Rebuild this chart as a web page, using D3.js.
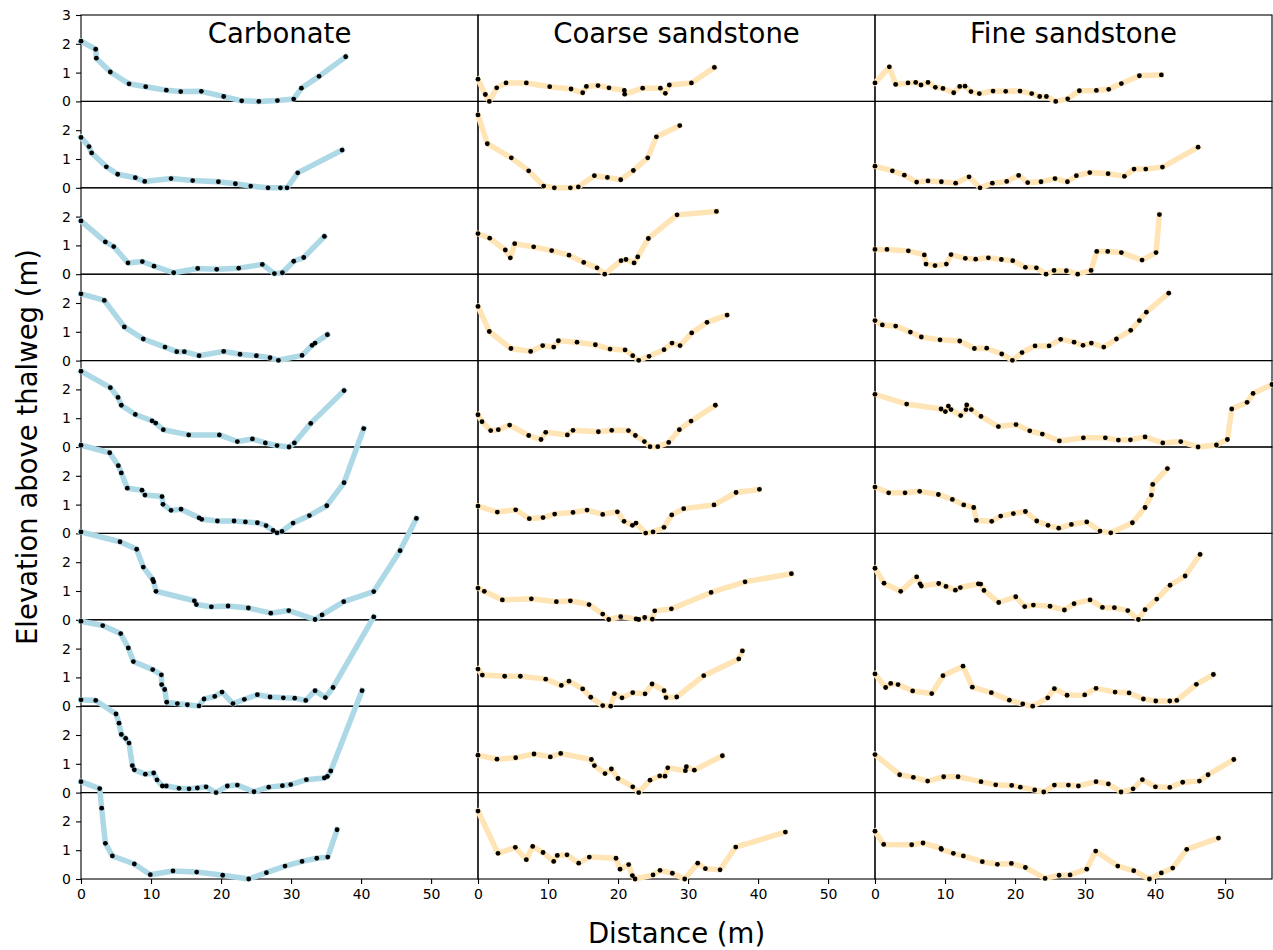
<!DOCTYPE html>
<html>
<head>
<meta charset="utf-8">
<script src="https://cdn.jsdelivr.net/npm/d3@7"></script>
<style>
  body { margin: 0; background: #fff; }
  svg { font-family: "DejaVu Sans", sans-serif; }
</style>
</head>
<body>
<div id="chart"></div>
<script>
// column titles and tick labels
const lithologies = ["Carbonate", "Coarse sandstone", "Fine sandstone"];
const xTicks = [0, 10, 20, 30, 40, 50];
const yTicks = [0, 1, 2];

// carbonate profiles, one array per row (distance in m / elevation in m)
const carbonateDist = [
  [0, 2.1, 2.19, 4.19, 6.86, 9.24, 12.19, 14.24, 17.19, 20.38, 22.95, 25.4, 28.05, 30.38, 31.48, 34.0, 37.8],
  [0, 1.14, 1.52, 3.62, 5.24, 7.76, 9.1, 12.86, 15.95, 19.62, 22.05, 24.24, 26.71, 28.48, 29.43, 30.95, 37.29],
  [0, 3.48, 4.67, 6.71, 8.76, 10.43, 13.24, 16.67, 19.38, 22.52, 25.9, 27.62, 28.76, 30.38, 31.81, 34.76],
  [0, 3.33, 6.19, 8.9, 12.0, 13.67, 14.76, 16.86, 20.38, 22.71, 25.05, 27.0, 28.19, 31.57, 33.0, 33.43, 35.19],
  [0, 4.19, 5.29, 5.76, 7.76, 10.14, 10.67, 11.76, 15.38, 19.76, 22.33, 24.48, 26.33, 28.0, 29.71, 30.48, 32.81, 37.57],
  [0, 4.1, 5.33, 5.76, 6.62, 8.71, 9.14, 11.57, 11.71, 12.86, 14.29, 16.86, 17.24, 19.48, 21.86, 23.48, 25.19, 26.43, 27.43, 28.0, 28.71, 30.29, 32.62, 35.1, 37.57, 40.38],
  [0, 5.57, 7.95, 8.9, 10.24, 10.38, 10.71, 16.19, 16.48, 18.62, 21.0, 23.9, 27.1, 29.67, 33.43, 34.43, 37.52, 41.81, 45.57, 47.9],
  [0, 3.1, 5.67, 6.76, 7.48, 10.24, 11.48, 11.52, 11.95, 12.24, 13.76, 15.19, 16.86, 17.57, 19.1, 20.14, 21.71, 23.33, 25.19, 27.0, 28.9, 30.52, 32.1, 33.43, 34.9, 36.0, 41.81],
  [0, 2.1, 5.0, 5.43, 5.76, 6.38, 6.86, 7.33, 7.62, 9.19, 10.38, 10.86, 11.62, 12.19, 14.0, 15.43, 16.62, 17.86, 19.29, 20.9, 22.33, 24.71, 26.81, 28.76, 29.95, 32.19, 34.76, 35.19, 35.67, 40.14],
  [0, 2.67, 2.95, 3.48, 4.48, 7.62, 9.9, 13.14, 16.52, 20.24, 23.95, 26.48, 29.14, 31.57, 33.67, 35.24, 36.57]
];
const carbonateElev = [
  [2.09, 1.81, 1.5, 1.02, 0.61, 0.51, 0.39, 0.34, 0.35, 0.17, 0.02, 0, 0.03, 0.08, 0.46, 0.87, 1.55],
  [1.75, 1.43, 1.21, 0.73, 0.47, 0.35, 0.22, 0.32, 0.25, 0.21, 0.14, 0.06, 0, 0, 0, 0.52, 1.31],
  [1.85, 1.12, 0.96, 0.39, 0.44, 0.28, 0.05, 0.2, 0.17, 0.21, 0.34, 0.02, 0.05, 0.45, 0.58, 1.31],
  [2.32, 2.09, 1.17, 0.75, 0.47, 0.31, 0.31, 0.17, 0.32, 0.22, 0.17, 0.1, 0.01, 0.18, 0.53, 0.61, 0.9],
  [2.63, 2.06, 1.72, 1.45, 1.13, 0.91, 0.83, 0.6, 0.42, 0.42, 0.19, 0.28, 0.14, 0.05, 0, 0.14, 0.82, 1.96],
  [3.06, 2.8, 2.35, 2.1, 1.57, 1.5, 1.33, 1.28, 1.01, 0.8, 0.84, 0.54, 0.49, 0.43, 0.43, 0.4, 0.37, 0.27, 0.1, 0.02, 0.07, 0.36, 0.62, 0.96, 1.76, 3.64],
  [3.05, 2.71, 2.45, 1.83, 1.4, 1.32, 0.99, 0.66, 0.53, 0.45, 0.48, 0.41, 0.23, 0.32, 0.01, 0.17, 0.63, 0.98, 2.4, 3.52],
  [2.95, 2.8, 2.52, 2.02, 1.55, 1.27, 1.09, 0.75, 0.58, 0.14, 0.09, 0.05, 0.01, 0.25, 0.34, 0.49, 0.09, 0.24, 0.4, 0.32, 0.29, 0.28, 0.2, 0.54, 0.3, 0.65, 3.1],
  [3.22, 3.2, 2.73, 2.41, 2.02, 1.88, 1.72, 0.94, 0.79, 0.64, 0.68, 0.44, 0.23, 0.23, 0.15, 0.13, 0.16, 0.2, 0, 0.23, 0.26, 0.03, 0.19, 0.24, 0.28, 0.45, 0.51, 0.56, 0.75, 3.54],
  [3.38, 3.14, 2.46, 1.24, 0.8, 0.52, 0.15, 0.28, 0.24, 0.13, 0, 0.22, 0.45, 0.61, 0.72, 0.76, 1.71]
];

// coarse sandstone profiles
const coarseDist = [
  [0, 1.05, 1.62, 2.67, 4.0, 6.9, 10.24, 13.29, 14.95, 15.48, 17.14, 18.71, 20.9, 20.95, 23.52, 26.05, 26.76, 27.33, 30.48, 33.76],
  [0, 1.33, 4.76, 7.24, 9.38, 10.9, 13.19, 14.33, 16.62, 18.48, 20.38, 22.19, 24.24, 25.48, 28.81],
  [0, 1.67, 3.9, 4.62, 5.24, 7.95, 10.52, 13.0, 15.1, 17.0, 18.1, 20.43, 21.14, 22.29, 22.81, 24.33, 28.43, 34.05],
  [0, 1.62, 4.71, 7.52, 9.24, 10.81, 11.48, 14.14, 16.76, 18.86, 21.0, 22.1, 22.95, 24.43, 26.57, 27.71, 28.86, 30.52, 32.71, 35.57],
  [0, 0.57, 1.81, 2.9, 4.52, 7.24, 9.0, 9.67, 12.76, 13.57, 17.19, 19.1, 21.48, 22.48, 23.76, 24.57, 25.67, 27.24, 28.76, 30.43, 33.9],
  [0, 2.76, 5.38, 7.33, 9.29, 10.95, 13.57, 15.57, 17.81, 19.9, 20.86, 22.05, 22.57, 23.95, 25.0, 26.57, 27.67, 29.38, 33.71, 36.86, 40.19],
  [0, 0.9, 3.48, 7.62, 11.19, 13.19, 15.86, 17.81, 18.67, 20.38, 22.57, 22.95, 23.81, 24.9, 25.24, 27.62, 33.29, 38.14, 44.76],
  [0, 0.62, 3.81, 6.05, 9.67, 11.9, 13.0, 14.95, 16.1, 17.81, 18.95, 19.48, 20.57, 22.1, 23.86, 24.86, 26.57, 26.86, 28.38, 32.24, 37.24, 37.76],
  [0, 2.71, 5.38, 8.0, 10.33, 11.81, 16.19, 16.62, 18.14, 19.05, 20.0, 22.1, 22.95, 24.57, 25.95, 26.71, 27.1, 29.62, 29.76, 30.9, 34.9],
  [0, 2.86, 5.33, 6.9, 7.81, 9.29, 10.81, 11.33, 12.71, 14.38, 15.9, 19.71, 20.29, 21.52, 22.05, 22.43, 25.0, 26.0, 27.76, 29.52, 31.38, 32.48, 34.57, 36.81, 43.9]
];
const coarseElev = [
  [0.77, 0.24, 0, 0.47, 0.64, 0.64, 0.51, 0.43, 0.3, 0.52, 0.55, 0.47, 0.38, 0.25, 0.46, 0.46, 0.28, 0.57, 0.64, 1.18],
  [2.53, 1.53, 1.04, 0.59, 0.06, 0, 0, 0.03, 0.42, 0.36, 0.28, 0.6, 1.04, 1.77, 2.16],
  [1.41, 1.25, 0.84, 0.57, 1.06, 0.95, 0.82, 0.66, 0.41, 0.22, 0, 0.47, 0.51, 0.39, 0.6, 1.24, 2.06, 2.18],
  [1.88, 1.01, 0.42, 0.32, 0.52, 0.47, 0.69, 0.64, 0.55, 0.4, 0.37, 0.17, 0.01, 0.15, 0.38, 0.61, 0.52, 0.96, 1.33, 1.58],
  [1.12, 0.88, 0.57, 0.6, 0.76, 0.4, 0.26, 0.51, 0.42, 0.58, 0.53, 0.58, 0.57, 0.4, 0.19, 0.01, 0.01, 0.16, 0.6, 0.9, 1.45],
  [0.95, 0.74, 0.82, 0.51, 0.55, 0.67, 0.73, 0.81, 0.66, 0.75, 0.42, 0.28, 0.36, 0.01, 0.05, 0.21, 0.64, 0.86, 0.99, 1.42, 1.53],
  [1.1, 0.99, 0.69, 0.73, 0.63, 0.66, 0.53, 0.2, 0.01, 0.11, 0.03, 0.01, 0.08, 0.02, 0.31, 0.38, 0.95, 1.32, 1.6],
  [1.29, 1.08, 1.04, 1.04, 0.94, 0.72, 0.87, 0.6, 0.31, 0.02, 0, 0.44, 0.29, 0.47, 0.43, 0.77, 0.54, 0.3, 0.32, 1.06, 1.64, 1.92],
  [1.3, 1.16, 1.21, 1.34, 1.24, 1.36, 1.15, 0.94, 0.66, 0.82, 0.49, 0.2, 0, 0.43, 0.58, 0.57, 0.86, 0.76, 0.9, 0.78, 1.28],
  [2.36, 0.89, 1.1, 0.67, 1.13, 0.92, 0.61, 0.82, 0.84, 0.55, 0.76, 0.72, 0.34, 0.5, 0.12, 0, 0.14, 0.3, 0.2, 0, 0.55, 0.36, 0.32, 1.11, 1.63]
];

// fine sandstone profiles
const fineDist = [
  [0, 2.05, 2.95, 4.71, 5.81, 6.57, 7.57, 8.62, 9.71, 11.24, 12.1, 12.86, 13.71, 14.9, 16.86, 18.67, 20.71, 22.38, 23.52, 24.48, 25.81, 27.52, 29.19, 31.62, 33.38, 35.19, 37.76, 40.9],
  [0, 2.48, 4.19, 5.95, 7.57, 9.48, 11.52, 13.43, 15.0, 16.76, 18.81, 20.52, 21.81, 23.71, 25.71, 27.48, 28.76, 30.67, 33.29, 35.62, 37.0, 38.67, 41.05, 46.14],
  [0, 1.71, 4.76, 7.05, 7.29, 8.57, 10.19, 10.86, 12.9, 14.38, 16.19, 18.05, 19.67, 21.48, 23.05, 24.43, 25.57, 27.33, 28.95, 30.86, 31.67, 33.24, 35.19, 38.14, 40.14, 40.62],
  [0, 1.05, 2.95, 5.05, 6.62, 9.29, 12.1, 14.19, 15.95, 18.1, 19.62, 21.0, 22.86, 24.86, 26.52, 28.43, 29.71, 30.9, 32.67, 34.48, 36.52, 37.76, 38.76, 41.95],
  [0, 4.52, 9.43, 10.05, 10.48, 10.86, 12.24, 13.0, 13.1, 13.76, 15.14, 17.62, 20.14, 22.1, 23.9, 26.33, 29.76, 32.9, 34.76, 36.48, 38.57, 41.1, 43.67, 46.14, 48.76, 50.33, 50.95, 53.14, 54.0, 56.7],
  [0, 1.95, 4.29, 6.38, 9.05, 11.05, 12.67, 14.1, 14.48, 16.67, 17.95, 19.76, 21.48, 23.1, 24.71, 26.24, 28.05, 30.24, 32.14, 33.67, 36.76, 38.57, 39.48, 39.67, 41.76],
  [0, 1.29, 3.67, 5.95, 6.43, 6.62, 9.1, 10.14, 11.48, 12.19, 14.76, 15.1, 15.57, 17.67, 20.1, 21.38, 22.62, 25.0, 27.05, 28.43, 30.71, 32.48, 34.19, 36.1, 37.62, 38.57, 40.24, 42.14, 44.29, 46.43],
  [0, 1.52, 2.24, 3.29, 5.38, 8.1, 9.71, 12.57, 13.9, 16.62, 19.19, 21.1, 22.52, 24.67, 25.62, 27.43, 29.95, 31.57, 34.29, 36.29, 38.33, 40.1, 42.1, 43.1, 45.9, 48.33],
  [0, 3.52, 5.48, 7.52, 9.81, 11.86, 15.14, 17.24, 19.52, 20.76, 22.81, 24.1, 25.62, 27.62, 29.05, 31.57, 33.33, 35.14, 36.86, 38.19, 40.05, 42.1, 43.95, 46.33, 47.57, 51.24],
  [0, 1.24, 5.24, 6.86, 9.43, 9.48, 11.19, 12.62, 15.33, 17.48, 19.48, 21.48, 24.29, 26.29, 27.86, 30.24, 31.52, 34.67, 36.95, 39.19, 40.9, 42.52, 44.52, 49.05]
];
const fineElev = [
  [0.64, 1.2, 0.59, 0.64, 0.66, 0.57, 0.66, 0.49, 0.45, 0.3, 0.52, 0.53, 0.34, 0.27, 0.36, 0.35, 0.36, 0.27, 0.17, 0.17, 0, 0.09, 0.37, 0.38, 0.42, 0.62, 0.89, 0.92],
  [0.75, 0.59, 0.44, 0.2, 0.24, 0.21, 0.16, 0.38, 0, 0.16, 0.22, 0.43, 0.18, 0.21, 0.32, 0.21, 0.42, 0.53, 0.49, 0.4, 0.65, 0.65, 0.72, 1.41],
  [0.86, 0.86, 0.81, 0.67, 0.35, 0.3, 0.35, 0.68, 0.55, 0.52, 0.57, 0.51, 0.47, 0.24, 0.22, 0, 0.13, 0.12, 0, 0.13, 0.79, 0.79, 0.75, 0.49, 0.75, 2.07],
  [1.39, 1.24, 1.2, 0.99, 0.82, 0.72, 0.68, 0.42, 0.43, 0.23, 0.01, 0.28, 0.51, 0.51, 0.74, 0.64, 0.53, 0.61, 0.47, 0.75, 1.05, 1.39, 1.68, 2.34],
  [1.83, 1.49, 1.32, 1.23, 1.42, 1.3, 1.09, 1.3, 1.46, 1.3, 1.06, 0.71, 0.78, 0.56, 0.45, 0.21, 0.32, 0.32, 0.24, 0.25, 0.35, 0.14, 0.19, 0, 0.07, 0.26, 1.32, 1.55, 1.86, 2.17],
  [1.61, 1.41, 1.41, 1.46, 1.35, 1.18, 0.99, 0.9, 0.45, 0.42, 0.6, 0.69, 0.76, 0.43, 0.28, 0.18, 0.31, 0.4, 0.08, 0.02, 0.37, 0.9, 1.33, 1.7, 2.25],
  [1.79, 1.27, 0.99, 1.49, 1.25, 1.17, 1.26, 1.16, 1.03, 1.12, 1.25, 1.24, 1.02, 0.6, 0.8, 0.46, 0.51, 0.47, 0.34, 0.56, 0.69, 0.43, 0.42, 0.32, 0.01, 0.35, 0.72, 1.2, 1.52, 2.27],
  [1.12, 0.65, 0.79, 0.75, 0.53, 0.44, 1.06, 1.39, 0.66, 0.47, 0.21, 0.08, 0, 0.29, 0.61, 0.38, 0.39, 0.62, 0.49, 0.46, 0.25, 0.18, 0.18, 0.2, 0.76, 1.1],
  [1.32, 0.62, 0.53, 0.4, 0.55, 0.55, 0.38, 0.27, 0.25, 0.19, 0.09, 0.02, 0.26, 0.26, 0.23, 0.38, 0.3, 0.02, 0.13, 0.45, 0.2, 0.18, 0.36, 0.4, 0.62, 1.15],
  [1.66, 1.2, 1.19, 1.25, 1.06, 1.03, 0.89, 0.8, 0.6, 0.51, 0.54, 0.4, 0.02, 0.13, 0.14, 0.34, 0.97, 0.45, 0.29, 0, 0.21, 0.38, 1.03, 1.42]
];

const margin = { top: 15, left: 81 };
const panelW = 397;
const panelH = 86.4;
const nRows = 10;
const bigFont = "27.5px";

const svg = d3.select("#chart")
  .append("svg")
  .attr("width", 1273)
  .attr("height", 950);

const x = d3.scaleLinear().domain([0, 56.7]).range([0, panelW]);
const y = d3.scaleLinear().domain([0, 3]).range([panelH, 0]);

const line = d3.line()
  .x(d => x(d[0]))
  .y(d => y(d[1]));

const columns = [
  { dist: carbonateDist, elev: carbonateElev, color: "#add8e6" },
  { dist: coarseDist, elev: coarseElev, color: "#ffe4b5" },
  { dist: fineDist, elev: fineElev, color: "#ffe4b5" }
];

// frames and axes
columns.forEach((col, c) => {
  const g = svg.append("g")
    .attr("transform", `translate(${margin.left + c * panelW}, ${margin.top})`);

  for (let r = 0; r < nRows; r++) {
    g.append("rect")
      .attr("x", 0)
      .attr("y", r * panelH)
      .attr("width", panelW)
      .attr("height", panelH)
      .attr("fill", "none")
      .attr("stroke", "#000")
      .attr("stroke-width", 1.1);

    // y ticks only on the first column
    if (c === 0) {
      const yAxis = g.append("g")
        .attr("transform", `translate(0, ${r * panelH})`)
        .call(d3.axisLeft(y)
          .tickValues(r === 0 ? yTicks.concat([3]) : yTicks)
          .tickFormat(d3.format("d"))
          .tickSize(5)
          .tickPadding(5));
      yAxis.select(".domain").remove();
    }
  }

  const xAxis = g.append("g")
    .attr("transform", `translate(0, ${nRows * panelH})`)
    .call(d3.axisBottom(x)
      .tickValues(xTicks)
      .tickSize(5)
      .tickPadding(5));
  xAxis.select(".domain").remove();

  g.append("text")
    .attr("x", panelW / 2)
    .attr("y", 28)
    .attr("text-anchor", "middle")
    .attr("font-size", bigFont)
    .text(lithologies[c]);
});

svg.selectAll(".tick line")
  .attr("stroke", "#000")
  .attr("stroke-width", 1.1);
svg.selectAll(".tick text")
  .attr("font-size", "14px")
  .attr("font-family", "DejaVu Sans, sans-serif")
  .attr("fill", "#000");

// profiles on top of the frames (not clipped, they spill over rows)
columns.forEach((col, c) => {
  const g = svg.append("g")
    .attr("transform", `translate(${margin.left + c * panelW}, ${margin.top})`);

  col.dist.forEach((dist, r) => {
    const pts = dist.map((d, i) => [d, col.elev[r][i]]);
    const row = g.append("g")
      .attr("transform", `translate(0, ${r * panelH})`);

    row.append("path")
      .datum(pts)
      .attr("d", line)
      .attr("fill", "none")
      .attr("stroke", col.color)
      .attr("stroke-width", 5.5)
      .attr("stroke-linejoin", "round")
      .attr("stroke-linecap", "square");

    row.selectAll("circle")
      .data(pts)
      .join("circle")
      .attr("cx", d => x(d[0]))
      .attr("cy", d => y(d[1]))
      .attr("r", 2.4)
      .attr("fill", "#000");
  });
});

// axis labels
svg.append("text")
  .attr("transform", `translate(37, ${margin.top + nRows * panelH / 2}) rotate(-90)`)
  .attr("text-anchor", "middle")
  .attr("font-size", bigFont)
  .text("Elevation above thalweg (m)");

svg.append("text")
  .attr("x", margin.left + 1.5 * panelW)
  .attr("y", 943)
  .attr("text-anchor", "middle")
  .attr("font-size", bigFont)
  .text("Distance (m)");
</script>
</body>
</html>
